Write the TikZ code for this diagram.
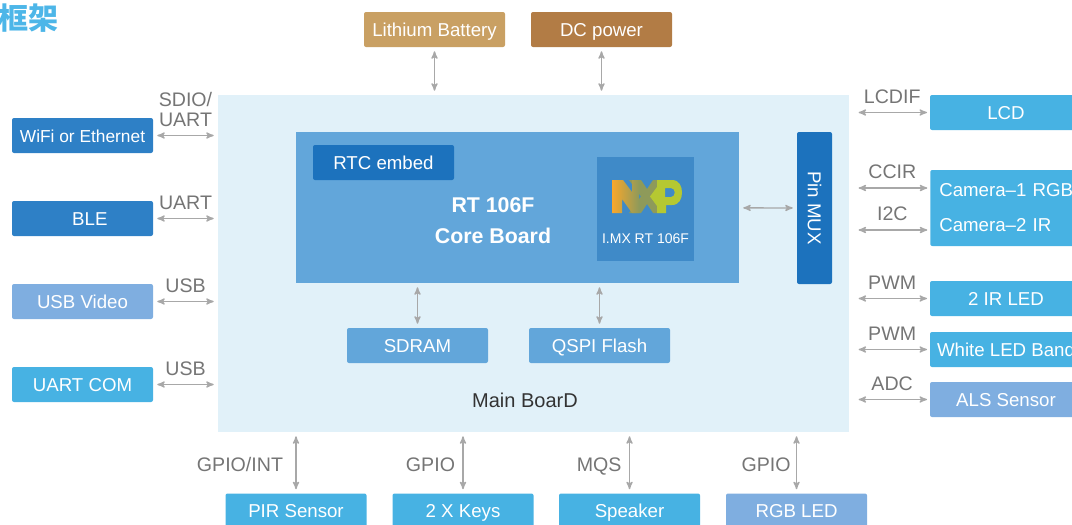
\documentclass[tikz,border=0pt]{standalone}
\usepackage{fontspec}
\setmainfont{Liberation Sans}
\newfontfamily\cjk{Noto Sans CJK SC}
\usetikzlibrary{positioning, arrows}

\definecolor{boardblue}{HTML}{E1F1F9}
\definecolor{coreblue}{HTML}{62A6DA}
\definecolor{tileblue}{HTML}{3F8AC8}
\definecolor{darkblue}{HTML}{1C72BD}
\definecolor{midblue}{HTML}{2E80C6}
\definecolor{skyblue}{HTML}{47B2E3}
\definecolor{softblue}{HTML}{7FAEE0}
\definecolor{sandbrown}{HTML}{C9A063}
\definecolor{darkbrown}{HTML}{B27C45}
\definecolor{linegray}{HTML}{A8A8A8}
\definecolor{labelgray}{HTML}{757575}
\definecolor{titleblue}{HTML}{4DB6E8}
\definecolor{nxporange}{HTML}{F9A72B}
\definecolor{nxpblue}{HTML}{62A6DA}
\definecolor{nxpgreen}{HTML}{B5C832}
\definecolor{nxpdark}{HTML}{8E9A5A}

\begin{document}
\begin{tikzpicture}[x=.75pt,y=-.75pt,>=stealth',shorten >=3pt,shorten <=3pt,
    box/.style={rectangle,rounded corners=1.5pt,minimum width=105.75pt,minimum height=26.25pt,inner sep=0pt,text=white,text height=12pt,text depth=2pt,font=\fontsize{14}{16}\selectfont},
    wide box/.style={box,minimum width=114pt},
    link/.style={every edge/.style={draw=linegray,<->,line width=1pt},text=labelgray,text height=13.5pt,text depth=0pt,font=\fontsize{14.7}{16}\selectfont,inner xsep=5.5pt,inner ysep=6.5pt}]

\path[use as bounding box,clip] (0,0) rectangle (1072,525);

\node[text=titleblue,font=\cjk\bfseries\fontsize{22.5}{24}\selectfont] (title) at (28,18) {框架};

\node[fill=boardblue,minimum width=473.25pt,minimum height=252.75pt,inner sep=0pt] (main) at (533.5,263.5) {};
\node[fill=coreblue,minimum width=332.25pt,minimum height=113.25pt,inner sep=0pt] (core) at (517.5,207.5) {};
\node[box,fill=darkblue]                 (rtc)  at (383.5,162.5) {RTC embed};
\node[text=white,font=\bfseries\fontsize{16}{18}\selectfont] (rt)   at (493,205) {RT 106F};
\node[text=white,font=\bfseries\fontsize{16}{18}\selectfont] (cb)   at (493,236) {Core Board};
\node[fill=tileblue,minimum width=72.75pt,minimum height=78pt,inner sep=0pt] (tile) at (645.5,209) {};
\node[text=white,font=\fontsize{10.5}{12}\selectfont] (imx) at (645.5,239) {I.MX RT 106F};

% logo
\shade[left color=nxpdark,middle color=nxpblue,right color=nxpdark] (629,180) -- (641,180) -- (647,189) -- (653,180) -- (665,180) -- (653,196.5) -- (665,213) -- (653,213) -- (647,204) -- (641,213) -- (629,213) -- (641,196.5) -- cycle;
\shade[left color=nxporange,middle color=nxporange,right color=nxpdark] (612,180) -- (623,180) -- (632,192) -- (632,180) -- (639,180) -- (639,213) -- (632,213) -- (622,199) -- (622,213) -- (612,213) -- cycle;
\fill[nxpgreen,even odd rule] (657,180) -- (672,180) .. controls (679,180) and (682,186) .. (682,192.5) .. controls (682,199) and (679,205) .. (672,205) -- (666,205) -- (666,213) -- (657,213) -- (657,206) -- (650,196.5) -- (657,187) -- cycle (665,188) -- (665,197) -- (671,197) .. controls (676,197) and (676,188) .. (671,188) -- cycle;

\node[box,fill=darkblue,rotate=-90,minimum width=114pt] (mux) at (814.5,208) {Pin MUX};
\node[box,fill=coreblue]                 (sdram) at (417.5,345.5) {SDRAM};
\node[box,fill=coreblue,right of=sdram,node distance=136.5pt] (qspi) {QSPI Flash};
\node[text=black!80,font=\fontsize{15}{17}\selectfont] (board) at (525,400) {Main BoarD};

\node[box,fill=sandbrown]                (battery) at (434.5,29.5) {Lithium Battery};
\node[box,fill=darkbrown]                (dc)      at (601.5,29.5) {DC power};

\node[box,fill=midblue,font=\fontsize{13}{16}\selectfont] (wifi) at (82.5,135.5) {WiFi or Ethernet};
\node[box,fill=midblue,below of=wifi,node distance=62.25pt] (ble) {\hspace{11pt}BLE};
\node[box,fill=softblue,below of=ble,node distance=62.25pt] (video) {USB Video};
\node[box,fill=skyblue,below of=video,node distance=62.25pt] (com) {UART COM};

\node[wide box,fill=skyblue]             (lcd)    at (1006,112.5) {LCD};
\node[box,fill=skyblue,anchor=west,minimum height=57pt,align=left,text width=107pt,inner xsep=6.75pt,text height=,text depth=,font=\fontsize{14}{26.25}\selectfont] (camera) at (930,208) {Camera–1 RGB\\Camera–2 IR};
\node[wide box,fill=skyblue]             (irled)  at (1006,298.5) {2 IR LED};
\node[wide box,fill=skyblue]             (white)  at (1006,349.5) {White LED Band};
\node[wide box,fill=softblue]            (als)    at (1006,399.5) {ALS Sensor};
\coordinate (cam1) at (930,188);
\coordinate (cam2) at (930,230);

\node[box,fill=skyblue]                  (pir)     at (296,511) {PIR Sensor};
\node[box,fill=skyblue,right of=pir,node distance=125.25pt]    (keys)    {2 X Keys};
\node[box,fill=skyblue,right of=keys,node distance=124.9pt]    (speaker) {Speaker};
\node[box,fill=softblue,right of=speaker,node distance=125.25pt] (rgb)   {RGB LED};

\path[link]
(battery) edge (battery |- main.north)
(dc) edge (dc |- main.north)
(wifi) edge[above] node[align=center,text height=,text depth=,inner ysep=5.8pt,font=\fontsize{14.7}{15}\selectfont]{SDIO/\\UART} (wifi -| main.west)
(ble) edge[above] node{UART} (ble -| main.west)
(video) edge[above] node{USB} (video -| main.west)
(com) edge[above] node{USB} (com -| main.west)
(core) edge (mux)
(sdram) edge (sdram |- core.south)
(qspi) edge (qspi |- core.south)
(pir) edge[left] node[xshift=-3.75pt]{GPIO/INT} (pir |- main.south)
(keys) edge[left] node{GPIO} (keys |- main.south)
(speaker) edge[left] node{MQS} (speaker |- main.south)
(rgb) edge[left] node[xshift=1.5pt]{GPIO} (rgb |- main.south)
;

\path[link,shorten <=7pt,shorten >=2pt,nodes={xshift=2pt}]
(lcd -| main.east) edge[above] node{LCDIF} (lcd)
(cam1 -| main.east) edge[above] node{CCIR} (cam1)
(cam2 -| main.east) edge[above] node{I2C} (cam2)
(irled -| main.east) edge[above] node{PWM} (irled)
(white -| main.east) edge[above] node{PWM} (white)
(als -| main.east) edge[above] node{ADC} (als)
;
\end{tikzpicture}
\end{document}
